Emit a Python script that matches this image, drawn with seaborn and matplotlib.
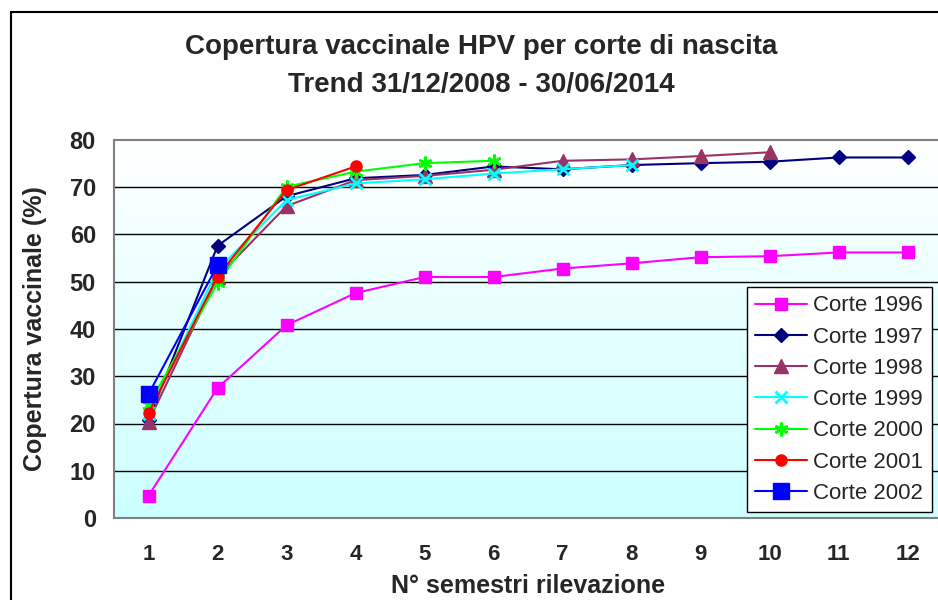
import numpy as np
import pandas as pd
import matplotlib
matplotlib.use("Agg")
import matplotlib.pyplot as plt
import seaborn as sns
from matplotlib.patches import Rectangle

# survey rounds (semesters) and coverage values
semestri = list(range(1, 13))
corte_1996 = [4.7, 27.5, 40.8, 47.6, 51.0, 51.0, 52.8, 53.9, 55.2, 55.4, 56.2, 56.2]
corte_1997 = [20.7, 57.6, 68.1, 71.9, 72.6, 74.4, 73.8, 74.7, 75.1, 75.4, 76.3, 76.3]
corte_1998 = [20.4, 51.0, 66.0, 71.5, 72.4, 73.7, 75.6, 75.9, 76.6, 77.4]
corte_1999 = [22.0, 52.5, 67.3, 70.8, 71.7, 72.9, 73.8, 74.7]
corte_2000 = [23.9, 49.7, 70.1, 73.3, 75.1, 75.6]
corte_2001 = [22.2, 51.1, 69.4, 74.4]
corte_2002 = [26.2, 53.5]

serie = {
    "Corte 1996": corte_1996,
    "Corte 1997": corte_1997,
    "Corte 1998": corte_1998,
    "Corte 1999": corte_1999,
    "Corte 2000": corte_2000,
    "Corte 2001": corte_2001,
    "Corte 2002": corte_2002,
}

stili = {
    "Corte 1996": dict(color="#ff00ff", marker="s", markersize=8, mew=1),
    "Corte 1997": dict(color="#000080", marker="D", markersize=7, mew=1),
    "Corte 1998": dict(color="#993366", marker="^", markersize=10, mew=1),
    "Corte 1999": dict(color="#00ffff", marker="x", markersize=9, mew=2),
    "Corte 2000": dict(color="#00ff00", marker=(6, 2, 0), markersize=10, mew=1.8),
    "Corte 2001": dict(color="#ff0000", marker="o", markersize=8, mew=1),
    "Corte 2002": dict(color="#0000ff", marker="s", markersize=12, mew=1),
}

sns.set_style("white")
plt.rcParams["font.family"] = ["Liberation Sans", "DejaVu Sans"]

fig = plt.figure(figsize=(9.38, 6), dpi=100)
ax = fig.add_axes([114 / 938, 1 - 518 / 600, (942 - 114) / 938, (518 - 140) / 600])

# outer chart border
fig.patches.append(Rectangle((11 / 938, -0.05), 1.1, 1 - 12 / 600 + 0.05,
                             transform=fig.transFigure, fill=False,
                             edgecolor="black", linewidth=1.5, zorder=0))

# gradient background white -> light cyan
grad = np.linspace(0, 1, 256).reshape(-1, 1)
cmap = matplotlib.colors.LinearSegmentedColormap.from_list("bg", ["#ccffff", "#ffffff"])
ax.imshow(grad, aspect="auto", cmap=cmap, origin="lower",
          extent=[0.5, 12.5, 0, 80], zorder=0)

for y in range(10, 80, 10):
    ax.axhline(y, color="black", linewidth=1, zorder=1)

for nome, valori in serie.items():
    df = pd.DataFrame({"semestre": semestri[:len(valori)], "copertura": valori})
    st = stili[nome]
    sns.lineplot(data=df, x="semestre", y="copertura", ax=ax, color=st["color"],
                 marker=st["marker"], markersize=st["markersize"],
                 markeredgewidth=st["mew"], markeredgecolor=st["color"],
                 linewidth=1.5, label=nome, zorder=3)

ax.set_xlim(0.5, 12.5)
ax.set_ylim(0, 80)
ax.set_yticks(range(0, 81, 10))
ax.set_xticks(semestri)
ax.set_xticks(np.arange(0.5, 12.6, 1), minor=True)
ax.tick_params(axis="x", which="major", length=0, pad=19)
ax.tick_params(axis="x", which="minor", length=6, width=1.2, color="#808080", direction="out")
ax.tick_params(axis="y", length=6, width=1.2, color="#808080", direction="out", pad=7)
for lab in ax.get_xticklabels():
    lab.set_fontsize(16)
    lab.set_fontweight("bold")
for lab in ax.get_yticklabels():
    lab.set_fontsize(17)
    lab.set_fontweight("bold")

for s in ["left", "bottom", "top"]:
    ax.spines[s].set_visible(True)
    ax.spines[s].set_color("#808080")
    ax.spines[s].set_linewidth(1.5)
ax.spines["right"].set_visible(False)

ax.set_xlabel("N° semestri rilevazione", fontsize=18, fontweight="bold", labelpad=6)
ax.set_ylabel("Copertura vaccinale (%)", fontsize=18, fontweight="bold", labelpad=16)

fig.text(481 / 938, 1 - 47 / 600, "Copertura vaccinale HPV per corte di nascita",
         ha="center", va="center", fontsize=20, fontweight="bold")
fig.text(481 / 938, 1 - 85 / 600, "Trend 31/12/2008 - 30/06/2014",
         ha="center", va="center", fontsize=20, fontweight="bold")

leg = ax.legend(loc="upper left", bbox_to_anchor=(747 / 938, 1 - 287 / 600),
                bbox_transform=fig.transFigure, borderaxespad=0, frameon=True,
                fontsize=16, handlelength=2.3, handletextpad=0.3,
                labelspacing=0.46, borderpad=0.38, fancybox=False)
leg.get_frame().set_edgecolor("black")
leg.get_frame().set_linewidth(1)
leg.get_frame().set_facecolor("white")
leg.get_frame().set_alpha(1)
leg.set_zorder(5)

fig.savefig("out.png", dpi=100)
